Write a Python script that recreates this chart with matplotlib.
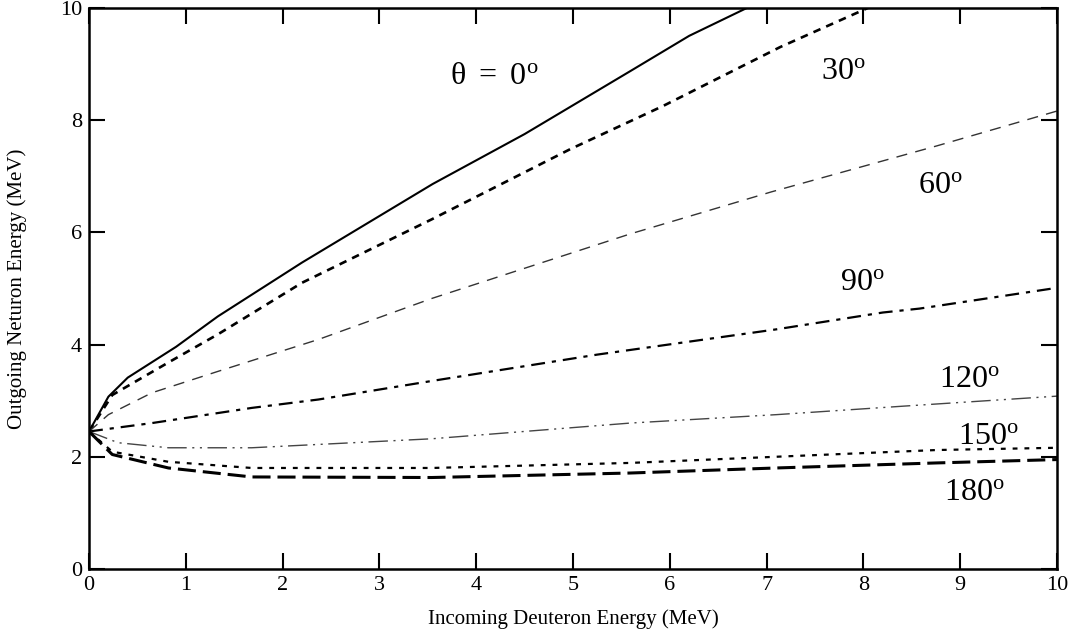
import matplotlib
matplotlib.use("Agg")
import matplotlib.pyplot as plt
import numpy as np

plt.rcParams['font.family'] = ['Liberation Serif', 'DejaVu Serif']
plt.rcParams['mathtext.fontset'] = 'custom'
plt.rcParams['mathtext.rm'] = 'Liberation Serif'
plt.rcParams['mathtext.it'] = 'Liberation Serif'
plt.rcParams['lines.scale_dashes'] = False

# outgoing neutron energy vs deuteron energy
e_0 = [0, 0.2, 0.4, 0.9, 1.33, 2.2, 3.55, 4.5, 5.6, 6.2, 6.8]
n_0 = [2.45, 3.07, 3.41, 3.96, 4.5, 5.46, 6.86, 7.75, 8.88, 9.5, 10.0]

e_30 = [0, 0.24, 0.82, 1.33, 2.2, 3.54, 4.97, 5.93, 7.14, 8.05]
n_30 = [2.45, 3.1, 3.68, 4.18, 5.1, 6.23, 7.48, 8.25, 9.3, 10.0]

e_60 = [0, 0.2, 0.65, 1.33, 2.37, 3.54, 5.59, 7.05, 8.76, 10.0]
n_60 = [2.45, 2.75, 3.14, 3.52, 4.09, 4.82, 5.97, 6.72, 7.54, 8.16]

e_90 = [0, 0.3, 0.65, 1.68, 2.37, 3.54, 5.25, 7.1, 8.2, 8.58, 10.0]
n_90 = [2.45, 2.52, 2.6, 2.87, 3.02, 3.35, 3.82, 4.27, 4.57, 4.64, 5.01]

e_120 = [0, 0.3, 0.82, 1.68, 3.54, 5.59, 7.1, 8.4, 10.0]
n_120 = [2.45, 2.25, 2.16, 2.16, 2.32, 2.6, 2.75, 2.9, 3.08]

e_150 = [0, 0.24, 0.82, 1.68, 3.54, 5.59, 7.1, 8.76, 10.0]
n_150 = [2.45, 2.09, 1.91, 1.8, 1.8, 1.89, 2.0, 2.12, 2.16]

e_180 = [0, 0.24, 0.82, 1.68, 3.54, 5.59, 7.1, 8.76, 10.0]
n_180 = [2.45, 2.04, 1.8, 1.64, 1.63, 1.71, 1.8, 1.89, 1.95]

labels = [r'$\mathrm{θ\ =\ 0^o}$', r'$\mathrm{30^o}$', r'$\mathrm{60^o}$', r'$\mathrm{90^o}$',
          r'$\mathrm{120^o}$', r'$\mathrm{150^o}$', r'$\mathrm{180^o}$']
label_x = [4.19, 7.79, 8.79, 7.99, 9.09, 9.29, 9.15]
label_y = [8.77, 8.87, 6.84, 5.11, 3.37, 2.36, 1.36]

fig = plt.figure(figsize=(10.74, 6.32), dpi=100)
ax = fig.add_axes([0.0829, 0.0997, 0.9013, 0.888])

ax.plot(e_0, n_0, color='black', lw=1.5)
ax.plot(e_30, n_30, color='black', lw=1.9, dashes=(5.5, 4.5))
ax.plot(e_60, n_60, color='#333333', lw=1.0, dashes=(8, 6))
ax.plot(e_90, n_90, color='black', lw=1.6, dashes=(10, 5, 3, 5))
ax.plot(e_120, n_120, color='#444444', lw=1.0, dashes=(14, 4, 1.5, 4, 1.5, 4))
ax.plot(e_150, n_150, color='black', lw=1.6, dashes=(3.5, 5))
ax.plot(e_180, n_180, color='black', lw=2.2, dashes=(13, 5))

for t, x, y in zip(labels, label_x, label_y):
    ax.text(x, y, t, fontsize=23, ha='center', va='center')

ax.set_xlim(0, 10)
ax.set_ylim(0, 10)
ax.set_xticks(np.arange(0, 11, 1))
ax.set_yticks(np.arange(0, 11, 2))
ax.tick_params(direction='in', length=11.5, width=1.5, top=True, right=True,
               labelsize=16, pad=5)
for s in ax.spines.values():
    s.set_linewidth(1.8)

ax.set_xlabel('Incoming Deuteron Energy (MeV)', fontsize=15, labelpad=10)
ax.set_ylabel('Outgoing Neturon Energy (MeV)', fontsize=15, labelpad=24)

fig.savefig('out.png', dpi=100)
